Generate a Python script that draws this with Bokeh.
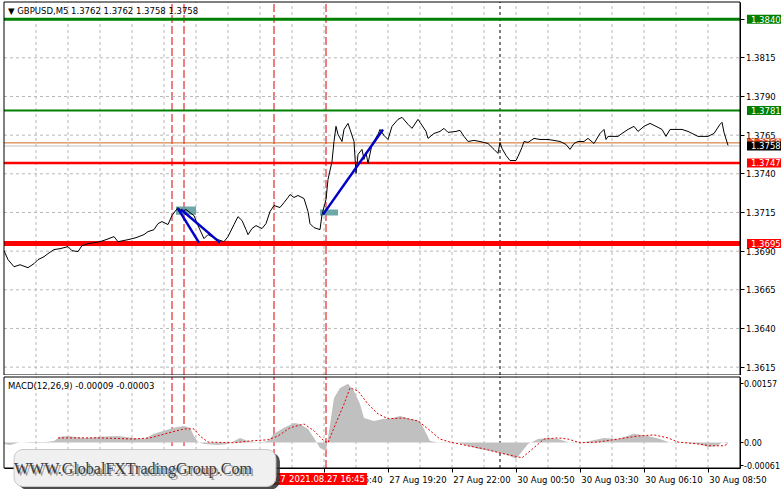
from bokeh.plotting import figure
from bokeh.layouts import column
from bokeh.models import Range1d, LinearAxis, FixedTicker, PrintfTickFormatter, Label
from bokeh.embed import file_html
from bokeh.resources import INLINE

# ---------------- data ----------------
price_bar = [0, 2, 5, 8, 12, 15, 17, 20, 22, 25,
             28, 32, 34, 37, 39, 42, 45, 48, 51, 55,
             57, 62, 66, 70, 72, 75, 77, 79, 82, 84,
             87, 89, 91, 93, 95, 97, 100, 102, 105, 107,
             110, 112, 115, 117, 119, 121, 122, 124, 126, 129,
             131, 133, 135, 138, 140, 142, 143, 145, 147, 150,
             152, 153, 155, 158, 159, 161, 162, 164, 165, 166,
             167, 169, 170, 172, 173, 175, 176, 177, 179, 180,
             181, 182, 184, 187, 188, 190, 192, 194, 197, 199,
             202, 204, 207, 208, 211, 212, 215, 218, 220, 222,
             226, 228, 230, 232, 235, 238, 242, 245, 247, 248,
             249, 251, 253, 256, 257, 259, 260, 262, 265, 268,
             272, 275, 278, 281, 283, 285, 287, 290, 292, 295,
             298, 300, 301, 302, 307, 309, 312, 315, 317, 320,
             323, 326, 329, 331, 333, 339, 342, 345, 347, 352,
             355, 358, 359, 360, 362]
price_val = [1.36903, 1.36845, 1.36799, 1.36812, 1.36793, 1.36819, 1.36845, 1.36864, 1.36884, 1.36910,
             1.36916, 1.36929, 1.36903, 1.36897, 1.36936, 1.36948, 1.36955, 1.36961, 1.36974, 1.36994,
             1.36961, 1.36974, 1.36987, 1.37007, 1.37026, 1.37039, 1.37078, 1.37091, 1.37072, 1.37130,
             1.37182, 1.37156, 1.37169, 1.37149, 1.37130, 1.37065, 1.36981, 1.37007, 1.36987, 1.36974,
             1.36961, 1.36994, 1.37072, 1.37123, 1.37098, 1.37039, 1.37007, 1.37046, 1.37065, 1.37046,
             1.37078, 1.37156, 1.37195, 1.37182, 1.37214, 1.37247, 1.37266, 1.37247, 1.37260, 1.37240,
             1.37156, 1.37078, 1.37052, 1.37039, 1.37136, 1.37234, 1.37363, 1.37480, 1.37609, 1.37707,
             1.37655, 1.37609, 1.37687, 1.37726, 1.37687, 1.37609, 1.37402, 1.37525, 1.37558, 1.37493,
             1.37538, 1.37467, 1.37590, 1.37655, 1.37687, 1.37648, 1.37622, 1.37707, 1.37752, 1.37765,
             1.37720, 1.37694, 1.37752, 1.37733, 1.37674, 1.37629, 1.37661, 1.37674, 1.37694, 1.37668,
             1.37674, 1.37681, 1.37642, 1.37609, 1.37616, 1.37609, 1.37596, 1.37558, 1.37532, 1.37603,
             1.37564, 1.37519, 1.37486, 1.37486, 1.37512, 1.37571, 1.37609, 1.37603, 1.37629, 1.37622,
             1.37622, 1.37616, 1.37609, 1.37590, 1.37558, 1.37596, 1.37609, 1.37609, 1.37629, 1.37596,
             1.37661, 1.37687, 1.37622, 1.37642, 1.37642, 1.37661, 1.37687, 1.37707, 1.37674, 1.37707,
             1.37726, 1.37707, 1.37687, 1.37642, 1.37687, 1.37687, 1.37674, 1.37655, 1.37642, 1.37642,
             1.37661, 1.37720, 1.37733, 1.37668, 1.37584]

hist_bar = [0, 3, 7, 13, 21, 25, 28, 32, 40, 48, 57, 65, 70, 75, 80, 85, 90, 93, 95, 97,
            100, 107, 112, 115, 118, 122, 127, 132, 135, 140, 145, 148, 152, 155, 158, 161, 162,
            165, 168, 172, 175, 178, 180, 185, 190, 193, 198, 203, 208, 210, 213, 218, 227, 232,
            237, 243, 248, 253, 256, 258, 262, 267, 272, 277, 283, 288, 293, 300, 307, 315, 322,
            328, 333, 340, 347, 352, 357, 359, 362]
hist_val = [-0.00004, -0.00007, -0.00001, 0.00001, 0.00001, 0.00004, 0.00015, 0.00017, 0.00012, 0.00015,
            0.00017, 0.00012, 0.00009, 0.00023, 0.00031, 0.00039, 0.00044, 0.00039, 0.00017, 0.00001,
            -0.00004, -0.00007, -0.00004, 0.00004, 0.00012, 0.00004, -0.00001, 0.00004, 0.00023, 0.00039,
            0.00052, 0.00049, 0.00036, 0.00012, -0.00015, -0.00023, 0.00012, 0.00118, 0.00145, 0.00156,
            0.00137, 0.00102, 0.00065, 0.00057, 0.00063, 0.00063, 0.00070, 0.00063, 0.00057, 0.00036,
            0.00004, -0.00001, -0.00001, -0.00009, -0.00017, -0.00023, -0.00028, -0.00036, -0.00044, -0.00031,
            -0.00004, 0.00009, 0.00012, 0.00009, -0.00001, -0.00001, 0.00004, 0.00012, 0.00009, 0.00023,
            0.00017, 0.00009, -0.00001, -0.00001, -0.00004, -0.00012, -0.00009, 0.00001, -0.00004]

sig_bar = [27, 37, 48, 65, 73, 82, 90, 95, 98, 102, 115, 123, 132, 137, 143, 150, 155, 160, 162, 165,
           170, 173, 177, 182, 187, 192, 200, 207, 212, 218, 223, 232, 240, 248, 255, 259, 263, 270,
           277, 282, 288, 297, 307, 317, 325, 332, 337, 347, 353, 360, 362]
sig_val = [0.00012, 0.00012, 0.00012, 0.00009, 0.00012, 0.00025, 0.00036, 0.00036, 0.00017, 0.00001,
           -0.00001, 0.00004, 0.00007, 0.00017, 0.00039, 0.00049, 0.00031, 0.00004, -0.00001, 0.00039,
           0.00102, 0.00145, 0.00137, 0.00102, 0.00076, 0.00063, 0.00065, 0.00057, 0.00036, 0.00009,
           0.00001, -0.00009, -0.00017, -0.00028, -0.00036, -0.00041, -0.00023, 0.00009, 0.00012, 0.00009,
           -0.00001, 0.00001, 0.00009, 0.00017, 0.00020, 0.00012, 0.00001, -0.00004, -0.00009, -0.00009,
           -0.00004]

price_ticks = [1.3615, 1.3640, 1.3665, 1.3690, 1.3715, 1.3740, 1.3765, 1.3790, 1.3815, 1.3840]
macd_ticks = [-0.00061, 0.0, 0.00157]
time_tick_bars = [32, 64, 96, 128, 160, 192, 224, 256, 288, 320, 352]
time_tick_labels = ["27 Aug 06:00", "27 Aug 08:40", "27 Aug 11:20", "27 Aug 14:00",
                    "27 Aug 16:40", "27 Aug 19:20", "27 Aug 22:00", "30 Aug 00:50", "30 Aug 03:30",
                    "30 Aug 06:10", "30 Aug 08:50"]
grid_bars = [16, 32, 48, 64, 80, 96, 112, 128, 144, 160, 176, 192, 208, 224, 240, 256, 272, 288,
             304, 320, 336, 352]

green_levels = [1.3840, 1.3781]
red_levels = [1.3747, 1.3695]
orange_level = 1.3760
bid_level = 1.3758
vline_bars = [84, 90, 135, 161]
vline_texts = ["2021.08.27 10:20", "2021.08.27 10:50", "2021.08.27 14:35", "2021.08.27 16:45"]
day_sep_bar = 248

trend_x = [[87, 97.5], [88.5, 108], [159.5, 189.5]]
trend_y = [[1.37175, 1.36955], [1.37169, 1.36955], [1.37136, 1.37687]]
box_left = [86, 158]
box_right = [96, 167]
box_top = [1.37188, 1.37169]
box_bottom = [1.37136, 1.37130]

title_text = "\u25bc GBPUSD,M5  1.3762 1.3762 1.3758 1.3758"
macd_title = "MACD(12,26,9) -0.00009 -0.00003"
watermark = "WWW.GlobalFXTradingGroup.Com"

# ---------------- geometry / styling ----------------
FONT = "DejaVu Sans"
FS = "8.5px"
GRID = "#b8b8b8"
RED = "#ff0000"
GREEN = "#008000"

CW = 781           # canvas width
PX0, PX1 = 3, 739  # chart panel left / right edge in px
H1 = 375           # price canvas height, panel rows 1 .. 374
H2 = 114           # macd canvas height, panel rows 1 .. 92
BAR0, BAR1 = 0, 368
P_BOT, P_TOP = 1.36099, 1.38511
M_BOT, M_TOP = -0.00068, 0.00174
HALF = 0.5         # half-pixel shift so 1px lines are crisp

bpp = (BAR1 - BAR0) / (PX1 - PX0)
xr = Range1d(BAR0 - (PX0 + HALF) * bpp, BAR1 + (CW - PX1 - HALF) * bpp)
ppp = (P_TOP - P_BOT) / (374 - 1)
yr1 = Range1d(P_BOT - (H1 - 374 - HALF) * ppp, P_TOP + (1 + HALF) * ppp)
mpp = (M_TOP - M_BOT) / (92 - 1)
yr2 = Range1d(M_BOT - (H2 - 92 - HALF) * mpp, M_TOP + (1 + HALF) * mpp)


def base_fig(h, yr, ybot, ytop):
    f = figure(width=CW, height=h, x_range=xr, y_range=yr,
               output_backend="svg", toolbar_location=None,
               x_axis_location=None, y_axis_location=None,
               min_border=0, min_border_left=0, min_border_right=0,
               min_border_top=0, min_border_bottom=0,
               background_fill_color="white", border_fill_color="white",
               outline_line_color=None)
    f.grid.visible = False
    f.segment(x0=grid_bars, y0=ybot, x1=grid_bars, y1=ytop,
              line_color=GRID, line_dash="3 3", line_width=1)
    f.segment(x0=vline_bars, y0=ybot, x1=vline_bars, y1=ytop,
              line_color="#e00000", line_dash="8 3", line_width=1)
    f.segment(x0=day_sep_bar, y0=ybot, x1=day_sep_bar, y1=ytop,
              line_color="black", line_dash="3 3", line_width=1)
    return f


def style_axis(ax, size=FS, tick=4, standoff=2):
    ax.axis_line_color = "black"
    ax.major_tick_out = tick
    ax.major_tick_in = 0
    ax.minor_tick_line_color = None
    ax.major_label_text_font = FONT
    ax.major_label_text_font_size = size
    ax.major_label_text_color = "black"
    ax.major_label_standoff = standoff


def text_label(fig, x, y, text, xo=0, yo=0, color="black", bg=None, align="left", pad=0):
    fig.add_layout(Label(x=x, y=y, x_offset=xo, y_offset=yo, text=text,
                         text_font=FONT, text_font_size=FS, text_color=color,
                         text_align=align, text_baseline="middle",
                         background_fill_color=bg, padding=pad))


# ---------------- price panel ----------------
p = base_fig(H1, yr1, P_BOT, P_TOP)
p.segment(x0=BAR0, y0=price_ticks, x1=BAR1, y1=price_ticks,
          line_color=GRID, line_dash="3 3", line_width=1)
p.segment(x0=BAR0, y0=bid_level, x1=BAR1, y1=bid_level, line_color="#c0c0c0", line_width=1)
p.segment(x0=BAR0, y0=orange_level, x1=BAR1, y1=orange_level, line_color="#d2691e", line_width=1)
p.segment(x0=BAR0, y0=green_levels[0], x1=BAR1, y1=green_levels[0], line_color=GREEN, line_width=3)
p.segment(x0=BAR0, y0=green_levels[1], x1=BAR1, y1=green_levels[1], line_color=GREEN, line_width=2)
p.segment(x0=BAR0, y0=red_levels[0], x1=BAR1, y1=red_levels[0], line_color=RED, line_width=2.5)
p.segment(x0=BAR0, y0=red_levels[1], x1=BAR1, y1=red_levels[1], line_color=RED, line_width=5)

p.quad(left=box_left, right=box_right, top=box_top, bottom=box_bottom,
       fill_color="#5f9ea0", fill_alpha=0.9, line_color=None)
p.line(price_bar, price_val, line_color="black", line_width=1)
p.multi_line(trend_x, trend_y, line_color="#0000c8", line_width=2.5)
p.quad(left=BAR0, right=BAR1, bottom=P_BOT, top=P_TOP, fill_color=None, line_color="black", line_width=1)

ya = LinearAxis(ticker=FixedTicker(ticks=price_ticks), formatter=PrintfTickFormatter(format="%.4f"),
                fixed_location=BAR1, bounds=(P_BOT, P_TOP))
style_axis(ya)
p.add_layout(ya, "right")

TAG_PAD = (4, 1)
text_label(p, BAR1, green_levels[0], "%.4f" % green_levels[0], xo=7, color="white", bg=GREEN, pad=TAG_PAD)
text_label(p, BAR1, green_levels[1], "%.4f" % green_levels[1], xo=7, color="white", bg=GREEN, pad=TAG_PAD)
text_label(p, BAR1, orange_level, "%.4f" % orange_level, xo=7, color="white", bg="#e8501e", pad=TAG_PAD)
text_label(p, BAR1, bid_level, "%.4f" % bid_level, xo=7, color="white", bg="black", pad=TAG_PAD)
text_label(p, BAR1, red_levels[0], "%.4f" % red_levels[0], xo=7, color="white", bg=RED, pad=TAG_PAD)
text_label(p, BAR1, red_levels[1], "%.4f" % red_levels[1], xo=7, color="white", bg=RED, pad=TAG_PAD)
text_label(p, BAR0, P_TOP, title_text, xo=4, yo=-9)

# ---------------- MACD panel ----------------
m = base_fig(H2, yr2, M_BOT, M_TOP)
m.varea(x=hist_bar, y1=0, y2=hist_val, fill_color="#c0c0c0")
m.line(sig_bar, sig_val, line_color="#e00000", line_dash="2 2", line_width=1)
m.quad(left=BAR0, right=BAR1, bottom=M_BOT, top=M_TOP, fill_color=None, line_color="black", line_width=1)

my = LinearAxis(ticker=FixedTicker(ticks=macd_ticks), formatter=PrintfTickFormatter(format="%.5f"),
                major_label_overrides={0: "0.00"}, fixed_location=BAR1, bounds=(M_BOT, M_TOP))
style_axis(my, size="8px", tick=3, standoff=1)
m.add_layout(my, "right")

label_centers = [b + 15 for b in time_tick_bars]
mx = LinearAxis(ticker=FixedTicker(ticks=label_centers, minor_ticks=time_tick_bars),
                major_label_overrides=dict(zip(label_centers, time_tick_labels)),
                fixed_location=M_BOT, bounds=(BAR0, BAR1))
style_axis(mx, standoff=3)
mx.major_tick_line_color = None
mx.minor_tick_line_color = "black"
mx.minor_tick_out = 4
mx.minor_tick_in = 0
m.add_layout(mx, "below")

text_label(m, BAR0, M_TOP, macd_title, xo=4, yo=-9)
for b, t in zip(vline_bars, vline_texts):
    text_label(m, b, M_BOT, t, xo=1, yo=-11, color="white", bg=RED, align="center", pad=(2, 1))

# watermark
WF = "Liberation Serif"
WS = "16px"
WP = (12, 10)
m.add_layout(Label(x=BAR0, y=M_BOT, x_offset=14, y_offset=-3, text=watermark,
                   text_font=WF, text_font_size=WS, text_color="#2e2e2e",
                   text_align="left", text_baseline="middle",
                   background_fill_color="#2e2e2e", background_fill_alpha=0.85,
                   padding=WP, border_radius=9))
m.add_layout(Label(x=BAR0, y=M_BOT, x_offset=10, y_offset=0, text=watermark,
                   text_font=WF, text_font_size=WS, text_color="#f0f0f0",
                   text_align="left", text_baseline="middle",
                   background_fill_color="#f0f0f0", border_line_color="#c8c8c8",
                   padding=WP, border_radius=9))
m.add_layout(Label(x=BAR0, y=M_BOT, x_offset=12, y_offset=-2, text=watermark,
                   text_font=WF, text_font_size=WS, text_color="#9a9a9a",
                   text_align="left", text_baseline="middle"))
m.add_layout(Label(x=BAR0, y=M_BOT, x_offset=10, y_offset=0, text=watermark,
                   text_font=WF, text_font_size=WS, text_color="#3a3a3a",
                   text_align="left", text_baseline="middle"))

layout = column(p, m)
open("out.html", "w").write(file_html(layout, INLINE))
